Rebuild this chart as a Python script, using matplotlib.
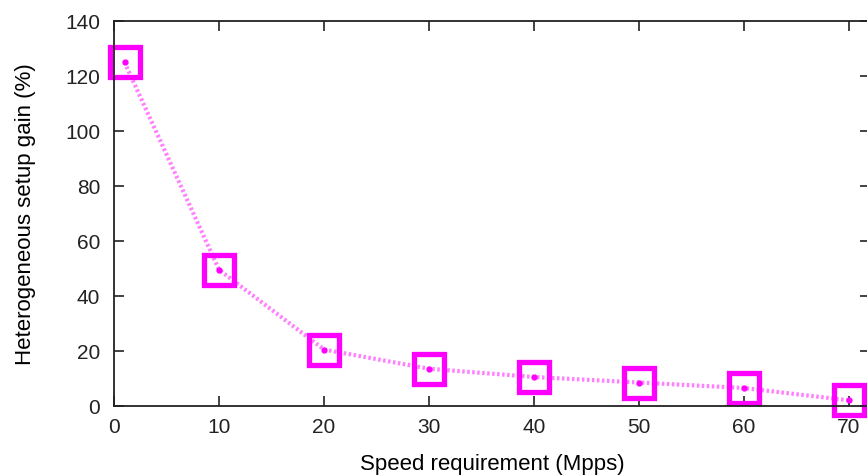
import matplotlib
matplotlib.use('Agg')
import matplotlib.pyplot as plt

plt.rcParams['font.family'] = ['Liberation Sans', 'DejaVu Sans']

speed = [1, 10, 20, 30, 40, 50, 60, 70]          # Mpps
gain = [125, 49.5, 20.5, 13.5, 10.5, 8.5, 6.5, 2]  # %
x_ticks = [0, 10, 20, 30, 40, 50, 60, 70]
y_ticks = [0, 20, 40, 60, 80, 100, 120, 140]

fig = plt.figure(figsize=(8.67, 4.77), dpi=100)
ax = fig.add_axes([0.1315, 0.147, 0.872, 0.807])

# fine dotted line with small dots, then big hollow squares on top
ax.plot(speed, gain, color='#ff00ff', linestyle=(0, (0.6, 0.6)), linewidth=3, alpha=0.5)
ax.plot(speed, gain, linestyle='none', color='#ff00ff', marker='o', markersize=3.5)
ax.plot(speed, gain, linestyle='none', marker='s', markersize=21,
        markerfacecolor='none', markeredgecolor='#ff00ff', markeredgewidth=3.8, clip_on=False)

ax.set_xlim(0, 72)
ax.set_ylim(0, 140)
ax.set_xticks(x_ticks)
ax.set_yticks(y_ticks)
ax.tick_params(direction='in', length=7, width=1.2, top=True, right=True, labelsize=15, colors='#222222')
ax.tick_params(axis='x', pad=8)
ax.tick_params(axis='y', pad=10)
for s in ax.spines.values():
    s.set_linewidth(1.3)
    s.set_color('#222222')

ax.set_xlabel('Speed requirement (Mpps)', fontsize=16, labelpad=12)
ax.set_ylabel('Heterogeneous setup gain (%)', fontsize=16, labelpad=21)

plt.savefig('out.png', dpi=100)
